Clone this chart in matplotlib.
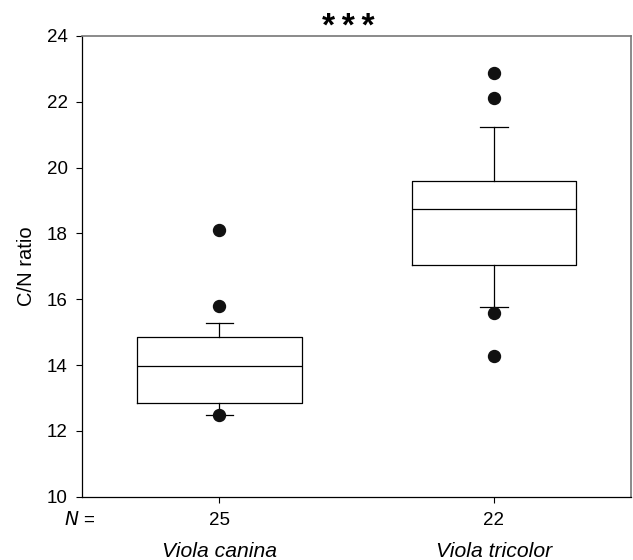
import matplotlib.pyplot as plt

plt.rcParams['font.family'] = ['Liberation Sans', 'DejaVu Sans']

# values
species = ["Viola canina", "Viola tricolor"]
n_vals = [25, 22]
q1 = [12.85, 17.03]
medians = [13.98, 18.73]
q3 = [14.85, 19.60]
whis_lo = [12.47, 15.76]
whis_hi = [15.28, 21.23]
outliers = [[12.47, 15.79, 18.10], [14.27, 15.58, 22.12, 22.87]]

stats = []
for i in range(len(species)):
    stats.append({
        "label": str(n_vals[i]),
        "q1": q1[i], "med": medians[i], "q3": q3[i],
        "whislo": whis_lo[i], "whishi": whis_hi[i],
        "fliers": outliers[i],
    })

fig = plt.figure(figsize=(6.33, 5.6), dpi=100)
ax = fig.add_axes([0.130, 0.113, 0.867, 0.823])

line = dict(color="black", linewidth=0.9)
ax.bxp(stats, positions=[1, 2], widths=0.6, capwidths=0.1,
       boxprops=line, medianprops=line, whiskerprops=line, capprops=line,
       flierprops=dict(marker="o", markerfacecolor="#111111",
                       markeredgecolor="#111111", markersize=8.6))

ax.set_xlim(0.5, 2.5)
ax.set_ylim(10, 24)
ax.set_yticks([10, 12, 14, 16, 18, 20, 22, 24])
ax.set_xticks([1, 2])
ax.set_xticklabels([str(n) for n in n_vals])
ax.tick_params(axis="both", labelsize=13.5, length=4.5, width=0.8, color="black")
ax.tick_params(axis="x", pad=6.5)
ax.tick_params(axis="y", pad=6)

for side in ["top", "right"]:
    ax.spines[side].set_color("#777777")
    ax.spines[side].set_linewidth(1.2)
for side in ["left", "bottom"]:
    ax.spines[side].set_color("black")
    ax.spines[side].set_linewidth(0.9)

ax.set_ylabel("C/N ratio", fontsize=14.5, labelpad=8)

# significance stars above the plot
fig.text(0.551, 0.936, "*\u2009*\u2009*", ha="center", va="baseline",
         fontsize=24, fontweight="bold", family=["Liberation Sans", "DejaVu Sans"])

ax.text(0.024, -0.050, r"$\it{N}$ =", transform=ax.transAxes,
        ha="right", va="center", fontsize=13.5)
for i, name in enumerate(species):
    ax.text(i + 1, -0.118, name, transform=ax.get_xaxis_transform(),
            ha="center", va="center", fontsize=15.2, style="italic")

fig.savefig("out.png", dpi=100)
